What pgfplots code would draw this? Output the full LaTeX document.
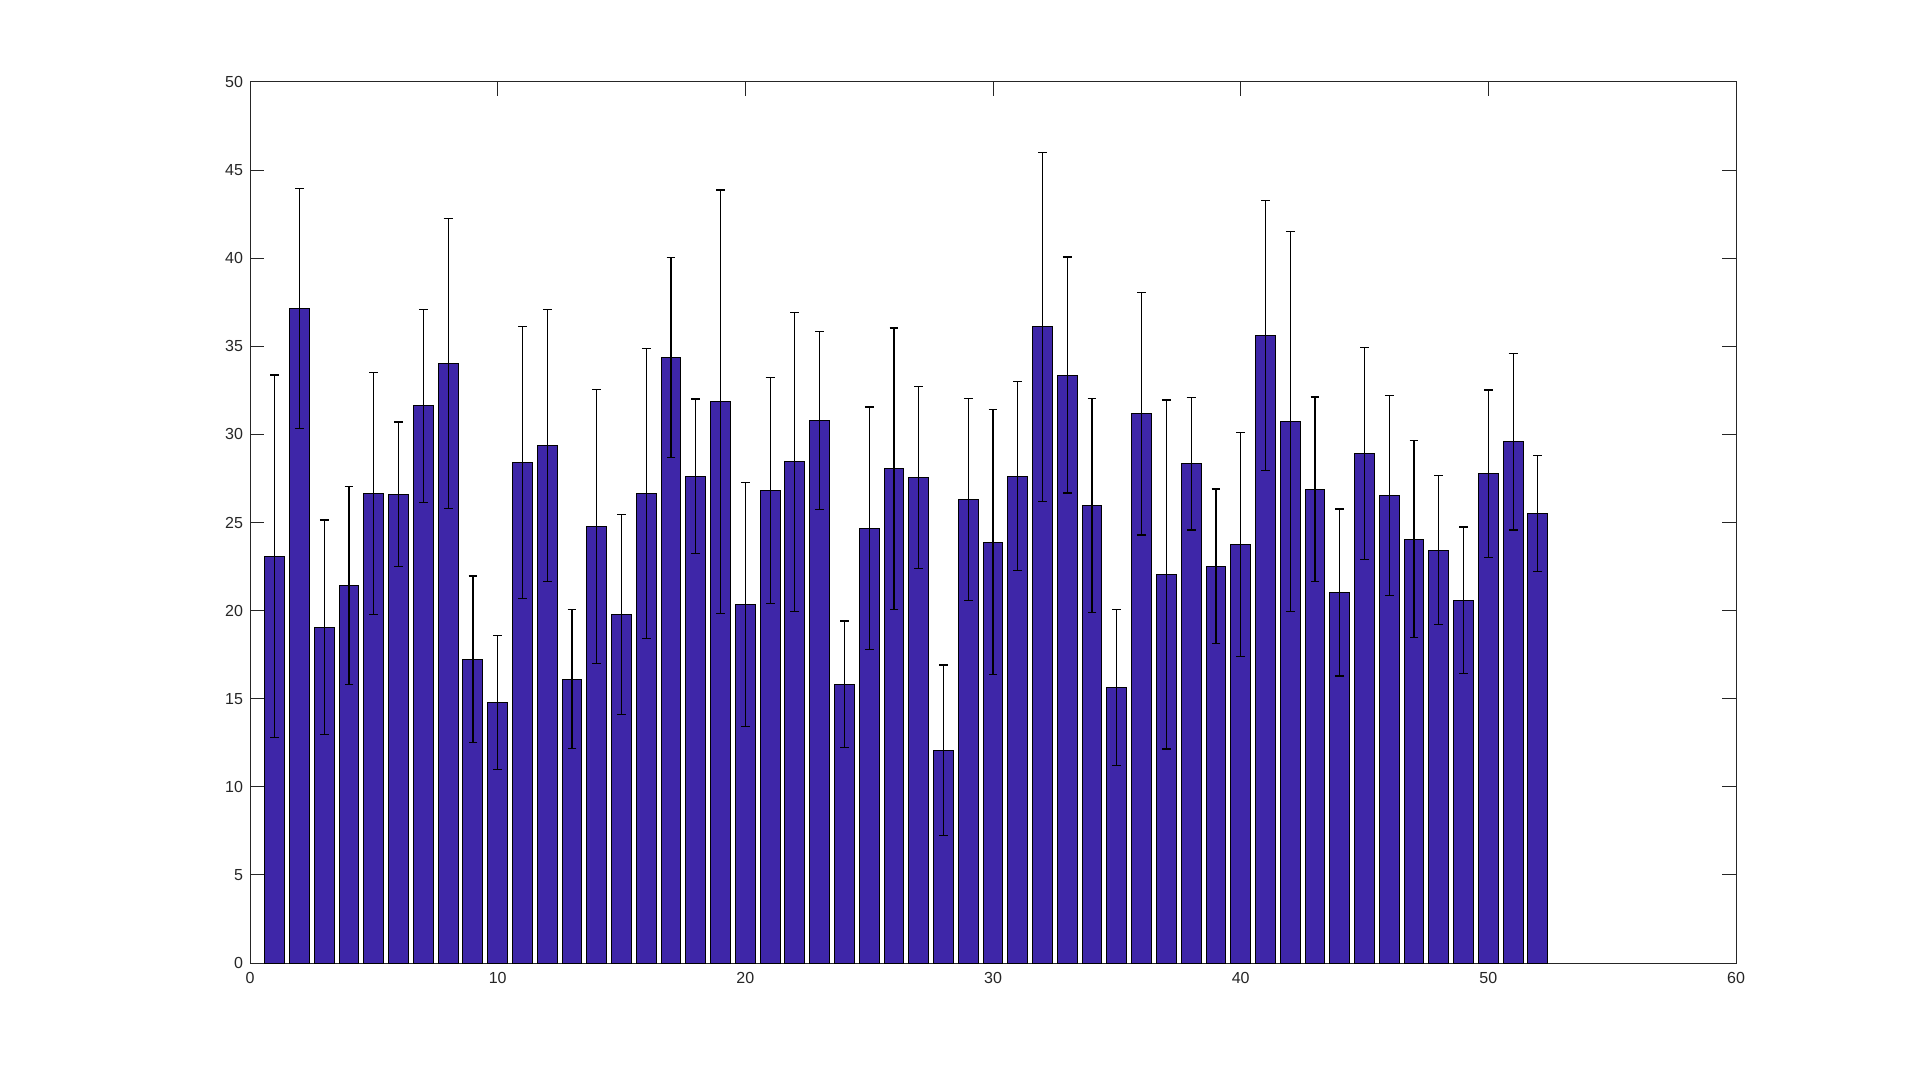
\documentclass[border=0pt]{standalone}
\usepackage{pgfplots}
\usepackage{pgfplotstable}
\usepackage{fontspec}
\setmainfont{Liberation Sans}
\pgfplotsset{compat=1.18}
\definecolor{barc}{RGB}{62,38,168}
\definecolor{axc}{RGB}{38,38,38}
\pgfplotstableread{
x y e
1 23.09 10.28
2 37.14 6.80
3 19.05 6.09
4 21.42 5.63
5 26.65 6.85
6 26.60 4.10
7 31.62 5.49
8 34.02 8.23
9 17.23 4.73
10 14.78 3.79
11 28.40 7.73
12 29.36 7.71
13 16.11 3.94
14 24.78 7.77
15 19.78 5.69
16 26.65 8.24
17 34.36 5.69
18 27.62 4.39
19 31.86 12.01
20 20.35 6.91
21 26.81 6.42
22 28.45 8.49
23 30.79 5.06
24 15.82 3.59
25 24.67 6.89
26 28.06 7.98
27 27.56 5.16
28 12.08 4.83
29 26.31 5.75
30 23.89 7.51
31 27.62 5.36
32 36.10 9.92
33 33.37 6.70
34 25.98 6.07
35 15.64 4.42
36 31.18 6.89
37 22.05 9.90
38 28.34 3.76
39 22.51 4.39
40 23.76 6.37
41 35.61 7.67
42 30.74 10.79
43 26.89 5.23
44 21.03 4.74
45 28.92 6.03
46 26.52 5.67
47 24.05 5.59
48 23.43 4.23
49 20.59 4.15
50 27.77 4.75
51 29.59 5.01
52 25.51 3.31
}\datatable
\begin{document}
\begin{tikzpicture}
\useasboundingbox[fill=white] (0,0) rectangle (960pt,541.5pt);
\begin{axis}[
  at={(125pt,60pt)}, anchor=south west,
  scale only axis,
  width=743pt, height=440.5pt,
  xmin=0, xmax=60, ymin=0, ymax=50,
  xtick={0,10,...,60}, ytick={0,5,...,50},
  tick align=inside,
  major tick length=7pt,
  axis line style={axc, line width=0.5pt},
  tick style={axc, line width=0.5pt},
  ticklabel style={font=\footnotesize, text=axc},
  /pgf/number format/assume math mode=true,
  yticklabel style={xshift=-0pt},
  xticklabel style={yshift=-1pt},
  axis background/.style={fill=white},
]
\addplot[ybar, bar width=0.8, fill=barc, draw=black, line width=0.5pt,
  error bars/.cd, y dir=both, y explicit,
  error bar style={black, line width=0.6pt},
  error mark options={rotate=90, mark size=2.2pt, black, line width=0.6pt}]
  table[x=x, y=y, y error=e] {\datatable};
\end{axis}
\end{tikzpicture}
\end{document}
